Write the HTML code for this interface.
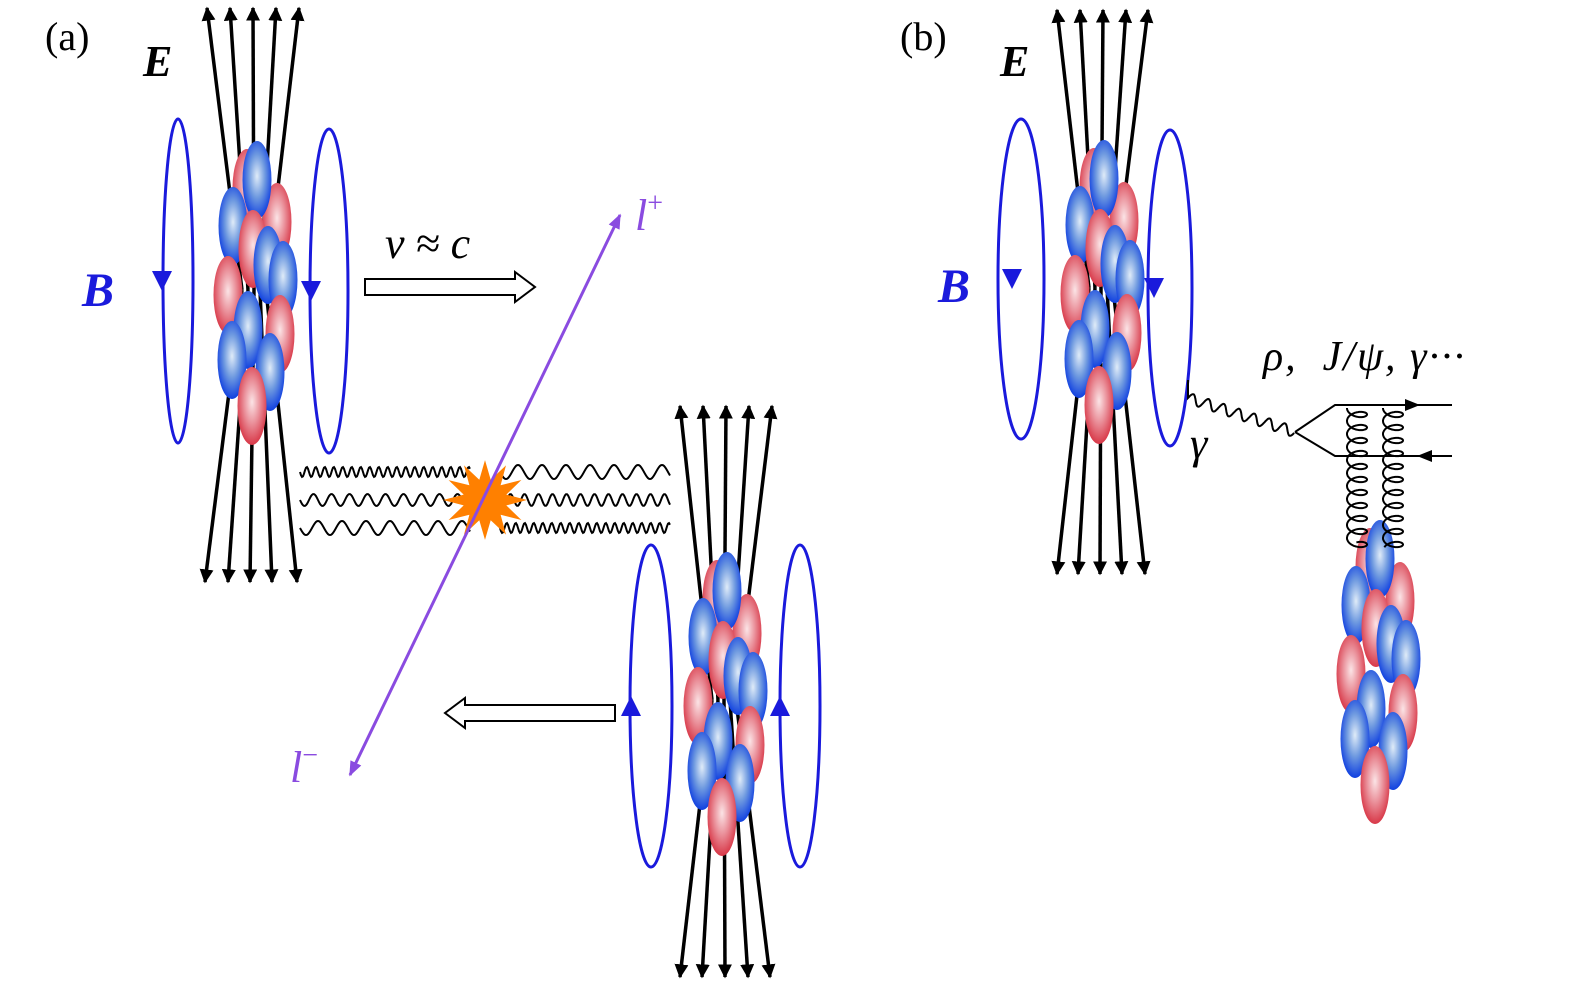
<!DOCTYPE html>
<html><head><meta charset="utf-8"><style>
html,body{margin:0;padding:0;background:#fff}
svg{display:block}
.t{font-family:"Liberation Serif",serif}
</style></head><body>
<svg id="s" width="1575" height="994" viewBox="0 0 1575 994" xmlns="http://www.w3.org/2000/svg">
<defs>
<radialGradient id="gb" cx="50%" cy="45%" r="55%"><stop offset="0" stop-color="#e0ecf8"/><stop offset="0.5" stop-color="#6f9ae0"/><stop offset="1" stop-color="#1040e0"/></radialGradient>
<radialGradient id="gr" cx="50%" cy="45%" r="55%"><stop offset="0" stop-color="#fbe4e6"/><stop offset="0.5" stop-color="#ea909a"/><stop offset="1" stop-color="#d83848"/></radialGradient>
<marker id="ak" viewBox="0 0 10 10" refX="9" refY="5" markerWidth="4" markerHeight="4" orient="auto-start-reverse"><path d="M0,0L10,5L0,10z" fill="#000"/></marker>
<marker id="ap" viewBox="0 0 10 10" refX="9" refY="5" markerWidth="5" markerHeight="5" orient="auto-start-reverse"><path d="M0,1L10,5L0,9z" fill="#8a4be0"/></marker>
</defs>
<g id="g"></g>
<text class="t" x="45" y="50" font-size="40">(a)</text>
<text class="t" x="900" y="50" font-size="40">(b)</text>
<text class="t" x="143" y="76" font-size="44" font-weight="bold" font-style="italic">E</text>
<text class="t" x="1000" y="76" font-size="44" font-weight="bold" font-style="italic">E</text>
<text class="t" x="82" y="306" font-size="48" font-weight="bold" font-style="italic" fill="#1a1adc">B</text>
<text class="t" x="938" y="302" font-size="48" font-weight="bold" font-style="italic" fill="#1a1adc">B</text>
<text class="t" x="385" y="258" font-size="44" font-style="italic">v ≈ c</text>
<text class="t" x="635" y="230" font-size="44" font-style="italic" fill="#8a4be0">l<tspan font-size="28" dy="-18" font-style="normal">+</tspan></text>
<text class="t" x="290" y="782" font-size="44" font-style="italic" fill="#8a4be0">l<tspan font-size="28" dy="-18" font-style="normal">−</tspan></text>
<text class="t" x="1190" y="458" font-size="44" font-style="italic">γ</text>
<text class="t" x="1263" y="370" font-size="42" font-style="italic" letter-spacing="2">ρ,&#160; J/ψ, γ···</text>
</svg>
<script>
var g=document.getElementById('g'),h='';
function fl(tops,waist,bots,yt,yw,yb){for(var i=0;i<5;i++){h+='<path d="M'+waist[i]+','+yw+'L'+tops[i]+','+yt+'" stroke="#000" stroke-width="3.5" fill="none" marker-end="url(#ak)"/>';h+='<path d="M'+waist[i]+','+yw+'L'+bots[i]+','+yb+'" stroke="#000" stroke-width="3.5" fill="none" marker-end="url(#ak)"/>';}}
fl([207,230,253,276,299],[242,248,254,260,266],[205,228,250,272,297],8,290,582);
fl([680,703,726,749,772],[712,718,724,730,736],[680,702,725,748,770],406,700,977);
fl([1057,1080,1103,1126,1148],[1089,1095,1101,1107,1113],[1057,1078,1100,1122,1145],10,288,574);
var E=[['r',247,188],['r',277,222],['b',257,180],['b',233,226],['r',253,249],['b',268,265],['b',283,280],['r',228,295],['r',280,334],['b',248,330],['b',232,360],['b',270,372],['r',252,406]];
function nuc(dx,dy){E.forEach(function(e){h+='<ellipse cx="'+(e[1]+dx)+'" cy="'+(e[2]+dy)+'" rx="14.5" ry="39" fill="url(#g'+e[0]+')"/>';});}
nuc(0,0);nuc(470,411);nuc(847,-1);nuc(1123,379);
function loop(cx,cy,rx,ry,ax,up){h+='<ellipse cx="'+cx+'" cy="'+cy+'" rx="'+rx+'" ry="'+ry+'" fill="none" stroke="#1a1adc" stroke-width="3"/>';
var y=cy;h+=up?'<path d="M'+(ax-10)+','+(y+10)+'L'+(ax+10)+','+(y+10)+'L'+ax+','+(y-10)+'z" fill="#1a1adc"/>':'<path d="M'+(ax-10)+','+(y-10)+'L'+(ax+10)+','+(y-10)+'L'+ax+','+(y+10)+'z" fill="#1a1adc"/>';}
loop(178,281,15,162,162,0);loop(329,291,19,162,311,0);
loop(651,706,21,161,631,1);loop(800,706,20,161,780,1);
loop(1021,279,23,160,1012,0);loop(1170,288,22,158,1154,0);
h+='<path d="M365,279L515,279L515,272L535,287L515,302L515,295L365,295z" fill="#fff" stroke="#000" stroke-width="2"/>';
h+='<path d="M615,705L465,705L465,698L445,713L465,728L465,721L615,721z" fill="#fff" stroke="#000" stroke-width="2"/>';
function wave(x0,x1,y,per,amp){var d='M'+x0+','+y;for(var x=x0;x<=x1;x+=1){d+='L'+x+','+(y+amp*Math.sin((x-x0)/per*2*Math.PI)).toFixed(1);}h+='<path d="'+d+'" stroke="#000" stroke-width="2" fill="none"/>';}
wave(300,470,472,9,5);wave(500,670,472,24,7);
wave(300,470,500,18,6);wave(500,670,500,14,6);
wave(300,470,528,24,7);wave(500,670,528,9,5);
var st='';for(var i=0;i<24;i++){var a=i*Math.PI/12,r=i%2?22:42;st+=(i?'L':'M')+(485+r*Math.cos(a)).toFixed(1)+','+(500+r*Math.sin(a)*0.95).toFixed(1);}
h+='<path d="'+st+'z" fill="#ff8000"/>';
h+='<path d="M350,775L620,215" stroke="#8a4be0" stroke-width="3" marker-start="url(#ap)" marker-end="url(#ap)"/>';
var d='M1188,380L1188,398';for(var t=0;t<=1;t+=0.005){var x=1188+107*t,y=398+34*t,o=5*Math.sin(t*Math.PI*2*7);d+='L'+(x+o*0.3).toFixed(1)+','+(y-o).toFixed(1);}
h+='<path d="'+d+'" stroke="#000" stroke-width="2" fill="none"/>';
h+='<path d="M1295,432L1335,405L1452,405M1295,432L1335,456L1452,456" stroke="#000" stroke-width="2" fill="none"/>';
h+='<path d="M1405,399L1420,405L1405,411z"/><path d="M1432,450L1417,456L1432,462z"/>';
function gl(cx,y0,y1){var p=13,d='';var n=(y1-y0)/p*2*Math.PI;for(var t=0;t<=n;t+=0.1){var x=cx+10*Math.cos(t+Math.PI),y=y0+p*t/(2*Math.PI)+5.5*Math.sin(t);d+=(d?'L':'M')+x.toFixed(1)+','+y.toFixed(1);}h+='<path d="'+d+'" stroke="#000" stroke-width="2" fill="none"/>';}
gl(1357,408,548);gl(1393,408,550);
g.innerHTML=h;
</script>
</body></html>
